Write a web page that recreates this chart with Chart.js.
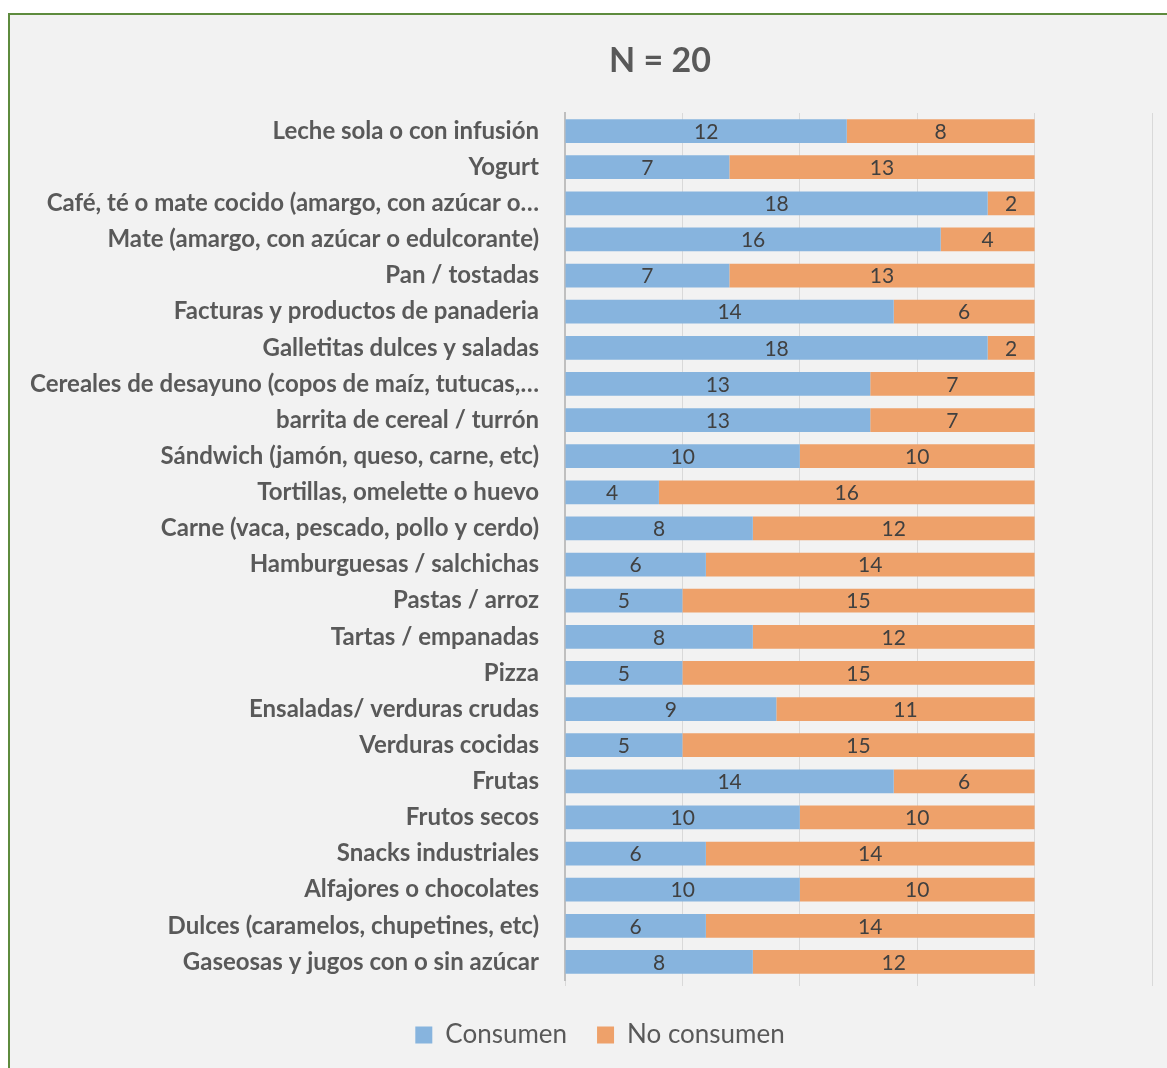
<!DOCTYPE html>
<html>
<head>
<meta charset="utf-8">
<script src="https://cdn.jsdelivr.net/npm/chart.js@4/dist/chart.umd.min.js"></script>
<style>
  body { margin:0; background:#fff; overflow:hidden; }
  #frame { position:absolute; left:8px; top:13px; width:1200px; height:1100px;
           border:2px solid #5e8b3e; background:#f2f2f2; }
  #wrap { position:absolute; left:0; top:0; width:1167px; height:1068px; }
</style>
</head>
<body>
<div id="frame"></div>
<div id="wrap"><canvas id="myChart" width="1167" height="1068"></canvas></div>
<script>
// food groups and answers (n = 20)
const foods = [
  'Leche sola o con infusión',
  'Yogurt',
  'Café, té o mate cocido (amargo, con azúcar o…',
  'Mate (amargo, con azúcar o edulcorante)',
  'Pan / tostadas',
  'Facturas y productos de panaderia',
  'Galletitas dulces y saladas',
  'Cereales de desayuno (copos de maíz, tutucas,…',
  'barrita de cereal / turrón',
  'Sándwich (jamón, queso, carne, etc)',
  'Tortillas, omelette o huevo',
  'Carne (vaca, pescado, pollo y cerdo)',
  'Hamburguesas / salchichas',
  'Pastas / arroz',
  'Tartas / empanadas',
  'Pizza',
  'Ensaladas/ verduras crudas',
  'Verduras cocidas',
  'Frutas',
  'Frutos secos',
  'Snacks industriales',
  'Alfajores o chocolates',
  'Dulces (caramelos, chupetines, etc)',
  'Gaseosas y jugos con o sin azúcar'
]
const consumen   = [12, 7, 18, 16, 7, 14, 18, 13, 13, 10, 4, 8, 6, 5, 8, 5, 9, 5, 14, 10, 6, 10, 6, 8]
const noConsumen = [8, 13, 2, 4, 13, 6, 2, 7, 7, 10, 16, 12, 14, 15, 12, 15, 11, 15, 6, 10, 14, 10, 14, 12]
const titleText = 'N = 20'

// value written in the middle of every segment
const barValues = {
  id: 'barValues',
  afterDatasetsDraw(chart) {
    const ctx = chart.ctx
    ctx.save()
    ctx.font = '21px Lato'
    ctx.fillStyle = '#404040'
    ctx.textAlign = 'center'
    ctx.textBaseline = 'middle'
    chart.data.datasets.forEach((ds, i) => {
      chart.getDatasetMeta(i).data.forEach((bar, j) => {
        ctx.fillText(ds.data[j], (bar.x + bar.base) / 2, bar.y + 1)
      })
    })
    ctx.restore()
  }
}

// heading above the plot
const heading = {
  id: 'heading',
  afterDraw(chart) {
    const ctx = chart.ctx
    ctx.save()
    ctx.font = 'bold 34px Lato'
    ctx.fillStyle = '#595959'
    ctx.textAlign = 'center'
    ctx.textBaseline = 'middle'
    ctx.fillText(titleText, 660, 61)
    ctx.restore()
  }
}

// long category names run past the left edge of the y axis box,
// so widen its label clip area to the canvas edge
const wideLabels = {
  id: 'wideLabels',
  afterLayout(chart) {
    chart.scales.y.left = 0
  }
}

const data = {
  labels: foods,
  datasets: [{
    label: 'Consumen',
    backgroundColor: '#87b4de',
    data: consumen,
    barPercentage: 0.66,
    categoryPercentage: 1
  }, {
    label: 'No consumen',
    backgroundColor: '#eea16a',
    data: noConsumen,
    barPercentage: 0.66,
    categoryPercentage: 1
  }]
}

const config = {
  type: 'bar',
  data: data,
  plugins: [barValues, heading, wideLabels],
  options: {
    indexAxis: 'y',
    responsive: false,
    animation: false,
    layout: { padding: { top: 113, left: 48, right: 15, bottom: 10 } },
    scales: {
      x: {
        stacked: true,
        min: 0,
        max: 25,
        z: 1,
        ticks: { display: false, stepSize: 5 },
        grid: { color: 'rgba(0,0,0,0.1)', drawTicks: true, tickLength: 6 },
        border: { display: false },
        afterFit: (scale) => { scale.height = 12 }
      },
      y: {
        stacked: true,
        grid: { display: false, drawTicks: false },
        border: { display: true, color: '#bfbfbf', width: 2 },
        ticks: {
          padding: 26,
          autoSkip: false,
          color: '#595959',
          font: { family: 'Lato', size: 24, weight: 'bold' }
        },
        afterFit: (scale) => { scale.width = 517 }
      }
    },
    plugins: {
      title: { display: false },
      tooltip: { enabled: false },
      legend: {
        position: 'bottom',
        labels: {
          boxWidth: 17,
          boxHeight: 17,
          padding: 30,
          color: '#595959',
          font: { family: 'Lato', size: 26 }
        }
      }
    }
  }
}

const myChart = new Chart(document.getElementById('myChart'), config)
</script>
</body>
</html>
